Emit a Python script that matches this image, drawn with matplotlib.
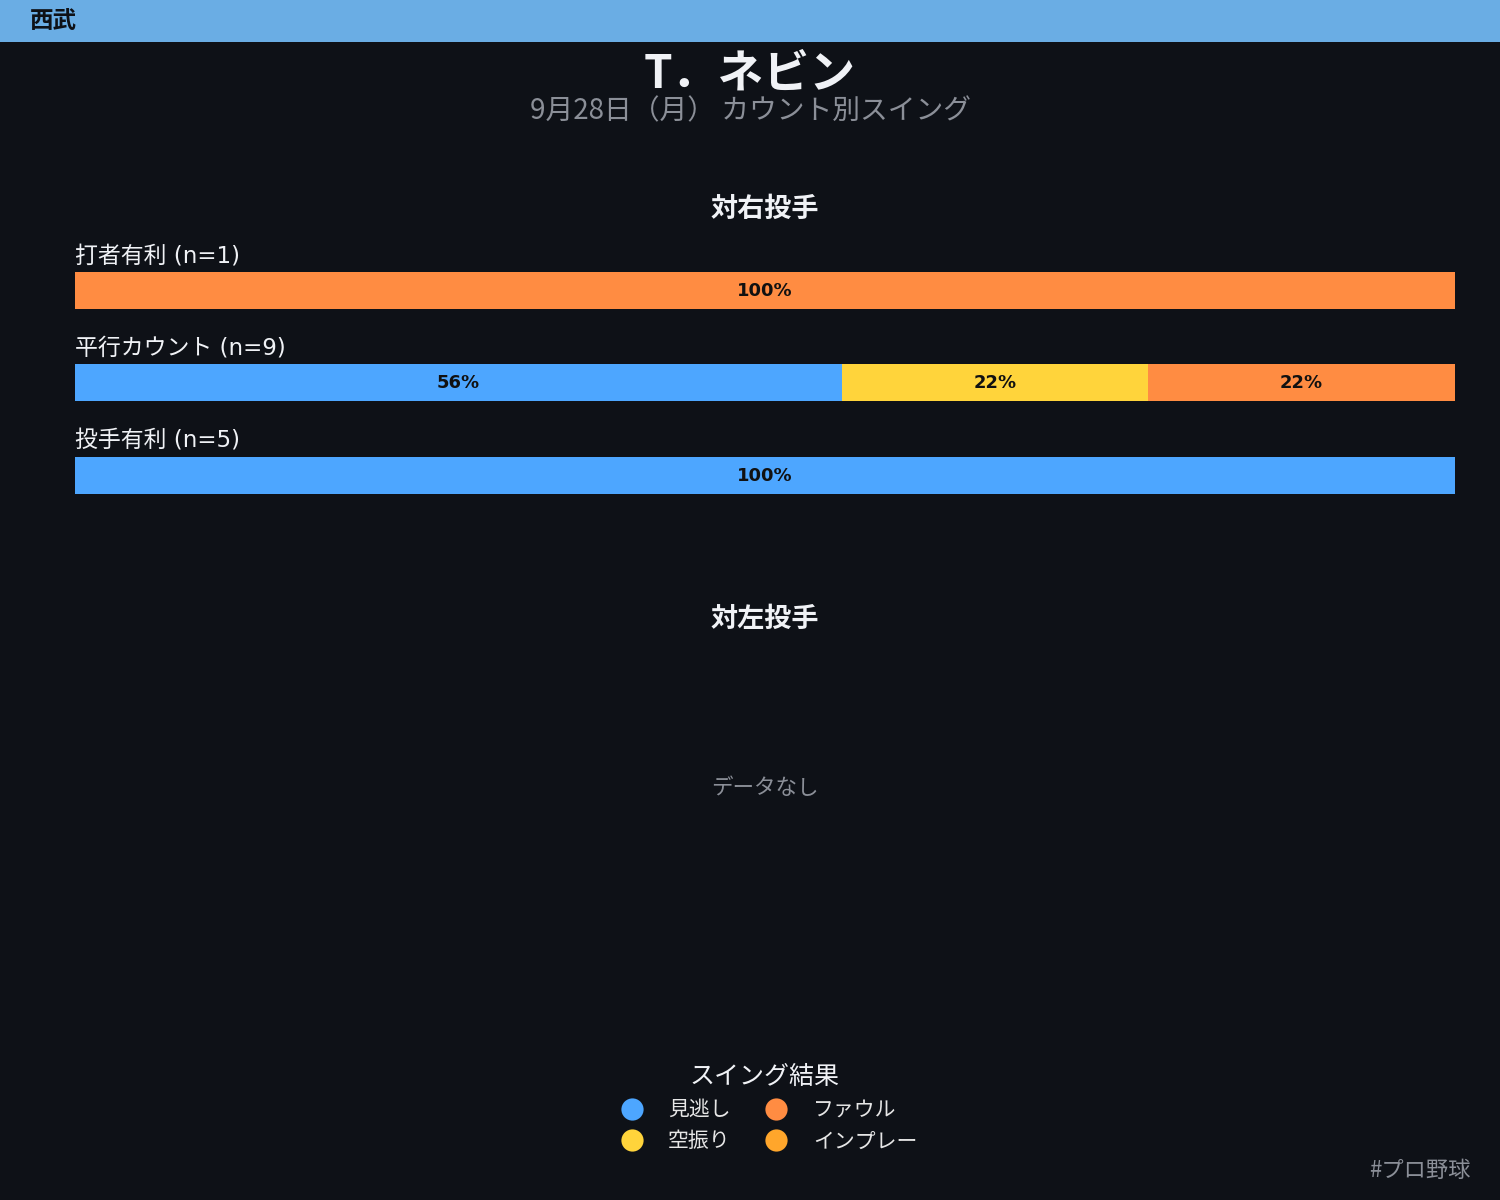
import matplotlib
matplotlib.use("Agg")
import matplotlib.pyplot as plt
from matplotlib.lines import Line2D
from matplotlib.patches import Rectangle

# data
team = "西武"
player = "T．ネビン"
subtitle = "9月28日（月） カウント別スイング"
categories = ["打者有利", "平行カウント", "投手有利"]
counts = [1, 9, 5]
results = ["見逃し", "空振り", "ファウル", "インプレー"]
res_right = {
    "見逃し": [0, 5, 5],
    "空振り": [0, 2, 0],
    "ファウル": [1, 2, 0],
    "インプレー": [0, 0, 0],
}
colors = {
    "見逃し": "#4da6ff",
    "空振り": "#ffd43b",
    "ファウル": "#ff8c42",
    "インプレー": "#ffa62b",
}

BG = "#0e1117"
W, H = 1500, 1200
JP = ["Noto Sans CJK JP", "DejaVu Sans"]
MIX = ["DejaVu Sans", "Noto Sans CJK JP"]

fig = plt.figure(figsize=(15, 12), dpi=100, facecolor=BG)


def fx(px):
    return px / W


def fy(py):
    return 1 - py / H


# header band
fig.patches.append(Rectangle((0, fy(42)), 1, 42 / H, transform=fig.transFigure,
                             facecolor="#6aade4", edgecolor="none"))
fig.text(fx(30), fy(21), team, ha="left", va="center", fontsize=17,
         fontweight="bold", color="#0e1117", family=JP)

fig.text(0.5, fy(75), player, ha="center", va="center", fontsize=33,
         fontweight="bold", color="#f0f2f6", family=JP)
fig.text(0.5, fy(111), subtitle, ha="center", va="center", fontsize=20,
         color="#8b8f98", family=JP)

# top panel: vs right-handed pitchers
row_px = 92.5
top_px, bot_px = 230, 520
ax = fig.add_axes([fx(75), fy(bot_px), fx(1455 - 75), (bot_px - top_px) / H])
ax.set_facecolor(BG)
ax.set_xlim(0, 100)
ax.set_ylim(2 + (bot_px - 475) / row_px, -(290 - top_px) / row_px)
ax.axis("off")

for i, (cat, n) in enumerate(zip(categories, counts)):
    left = 0
    for r in results:
        v = res_right[r][i]
        if v == 0:
            continue
        pct = v / n * 100
        ax.barh(i, pct, left=left, height=0.4, color=colors[r], edgecolor="none")
        ax.text(left + pct / 2, i + 0.01, f"{pct:.0f}%", ha="center", va="center",
                fontsize=13, fontweight="bold", color="#111111", family=MIX)
        left += pct
    ax.text(0, i - 0.37, f"{cat} (n={n})", ha="left", va="center",
            fontsize=16.5, color="#f0f2f6", family=MIX)

fig.text(fx(765), fy(209), "対右投手", ha="center", va="center", fontsize=19.5,
         fontweight="bold", color="#f0f2f6", family=JP)

# bottom panel: vs left-handed pitchers (no data)
ax2 = fig.add_axes([fx(75), fy(940), fx(1455 - 75), (940 - 640) / H])
ax2.set_facecolor(BG)
ax2.axis("off")
fig.text(fx(765), fy(619), "対左投手", ha="center", va="center", fontsize=19.5,
         fontweight="bold", color="#f0f2f6", family=JP)
fig.text(fx(765), fy(788), "データなし", ha="center", va="center", fontsize=15.5,
         color="#8b8f98", family=JP)

# legend
handles = [Line2D([], [], linestyle="none", marker="o", markersize=16,
                  markerfacecolor=colors[r], markeredgecolor="none") for r in results]
leg = fig.legend(handles, results, ncol=2, loc="center", bbox_to_anchor=(fx(764), fy(1108)),
                 frameon=False, title="スイング結果", handletextpad=0.75, columnspacing=1.2,
                 labelspacing=0.45, prop={"family": JP, "size": 15},
                 title_fontproperties={"family": JP, "size": 18})
for t in leg.get_texts():
    t.set_color("#e6e6e6")
leg.get_title().set_color("#f0f2f6")

fig.text(fx(1470), fy(1170), "#プロ野球", ha="right", va="center", fontsize=16,
         color="#8b8f98", family=JP)

fig.savefig("out.png", dpi=100, facecolor=BG)
